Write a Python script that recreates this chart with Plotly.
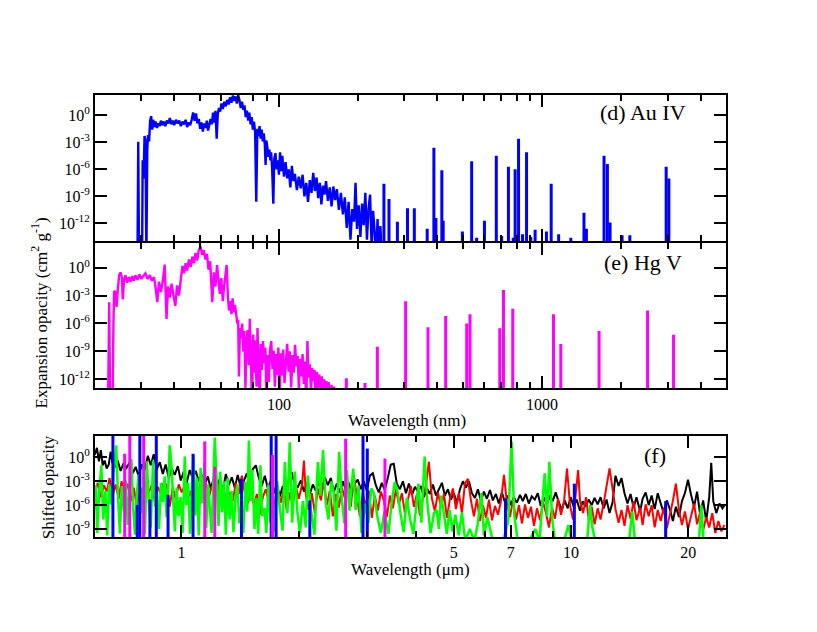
import math
import plotly.graph_objects as go

FONT = "Liberation Serif, Times New Roman, Times, serif"

# ---------------- Panel (d) Au IV : wavelength (nm) / log10 opacity ----------------
au_wl = [29.0, 29.2, 29.4, 30.2, 30.35, 30.6, 30.85, 31.1, 31.35, 31.6,
         31.8, 32.1, 32.4, 32.7, 33.0, 33.3, 33.6, 34.0, 34.4, 34.8,
         35.2, 35.6, 36.0, 36.5, 37.0, 37.5, 38.0, 38.5, 39.0, 39.5,
         40.0, 40.6, 41.2, 41.8, 42.4, 43.0, 43.6, 44.2, 44.8, 45.4,
         46.0, 46.6, 47.2, 47.8, 48.4, 49.0, 49.6, 50.2, 50.8, 51.4,
         52.0, 52.6, 53.2, 53.8, 54.4, 55.0, 55.6, 56.2, 56.8, 57.4,
         58.0, 58.6, 59.2, 59.8, 60.5, 61.2, 62.0, 62.8, 63.6, 64.4,
         65.2, 66.0, 66.8, 67.6, 68.4, 69.2, 70.0, 70.8, 71.6, 72.4,
         73.2, 74.0, 74.8, 75.6, 76.4, 77.2, 78.0, 78.8, 79.6, 80.4,
         81.2, 82.0, 82.8, 83.6, 84.4, 85.2, 86.0, 86.8, 87.6, 88.4,
         89.0, 89.6, 90.4, 91.2, 92.0, 92.8, 93.4, 94.2, 95.2, 96.0,
         97.0, 98.0, 99.0, 100.0, 101.0, 102.0, 103.0, 104.5, 106.0, 107.5,
         109.0, 110.5, 112.0, 113.5, 115.0, 117.0, 119.0, 121.0, 123.0, 125.0,
         127.0, 129.0, 131.0, 133.0, 135.0, 137.0, 139.0, 141.0, 143.0, 145.0,
         147.0, 149.0, 151.0, 153.5, 156.0, 158.5, 161.0, 163.5, 166.0, 169.0,
         172.0, 175.0, 178.0, 181.0, 184.0, 187.0, 190.0, 193.0, 195.5, 198.0,
         201.0, 204.0, 207.0, 210.0, 213.0, 216.0, 219.0, 222.0, 225.0, 228.0,
         231.0, 234.0, 237.0, 240.0, 243.0, 246.0]
au_log = [-16, -2.95, -16, -16, -5.0, -7.0, -2.3, -2.8, -16, -3.9,
          -2.2, -2.9, -0.6, -0.1, -1.6, -0.5, -1.3, -0.7, -1.4, -0.9,
          -1.2, -0.6, -1.1, -0.7, -1.2, -0.6, -0.9, -0.3, -1.0, -0.6,
          -1.1, -0.5, -0.9, -0.6, -1.2, -0.7, -1.0, -0.5, -1.3, -0.8,
          -1.1, -0.5, 0.3, -0.6, 0.2, -0.9, -0.4, -1.5, -0.8, -1.8,
          -0.9, -1.4, -0.6, -1.7, -0.9, -0.4, -1.0, 0.3, -0.8, 0.5,
          -2.6, 0.2, 0.8, 0.4, 1.3, 0.7, 1.5, 1.0, 1.7, 1.2,
          2.0, 1.4, 2.2, 1.6, 2.1, 1.3, 2.2, 1.7, 0.8, 1.5,
          0.6, 1.1, -0.2, 0.5, -0.6, 0.3, -1.0, -0.2, -1.6, -0.7,
          -1.9, -9.6, -1.5, -2.3, -1.2, -2.6, -1.6, -2.9, -2.0, -3.3,
          -5.5, -2.8, -3.6, -4.6, -3.8, -5.0, -4.1, -5.8, -9.8, -4.8,
          -4.2, -6.0, -5.0, -6.6, -4.1, -6.2, -4.5, -6.8, -5.2, -7.0,
          -6.0, -8.0, -5.6, -7.3, -6.5, -8.3, -6.8, -8.1, -6.6, -9.0,
          -7.5, -9.6, -7.2, -8.6, -6.4, -8.4, -6.9, -9.2, -7.5, -9.9,
          -7.8, -8.8, -7.3, -9.5, -8.0, -10.1, -7.9, -9.4, -8.2, -10.5,
          -8.6, -11.0, -9.1, -12.5, -9.6, -13.8, -10.4, -11.8, -7.5, -12.6,
          -10.0, -13.5, -9.8, -12.2, -8.6, -13.8, -10.4, -8.8, -14.5, -10.6,
          -12.9, -16, -11.5, -16, -12.3, -16]
au_line_wl = [250.6, 262, 282, 308, 327, 366, 388, 395, 416, 421,
              498, 540, 564, 604, 670, 702, 745, 777, 790, 814,
              843, 873, 906, 941, 1039, 1083, 1156, 1286, 1443, 1474,
              1720, 1771, 1813, 2014, 2155, 2962, 3033]
au_line_log = [-7.6, -9.3, -11.8, -10.3, -10.3, -12.6, -3.6, -11.4, -6.1, -11.7,
               -12.9, -5.1, -13.6, -11.7, -4.5, -13.4, -5.7, -13.6, -6.0, -2.6,
               -13.2, -4.1, -13.5, -12.7, -12.9, -7.6, -13.2, -13.6, -10.8, -12.6,
               -4.5, -5.4, -11.9, -13.3, -13.3, -5.7, -7.0]

# ---------------- Panel (e) Hg V ----------------
hg_wl = [22.4, 22.65, 22.85, 23.3, 23.5, 23.65, 23.9, 24.15, 24.4, 24.7,
         25.0, 25.3, 25.5, 25.8, 26.1, 26.5, 26.9, 27.3, 27.7, 28.1,
         28.5, 29.0, 29.5, 30.0, 30.5, 31.1, 31.7, 32.3, 32.9, 33.5,
         33.9, 34.5, 35.0, 35.6, 36.2, 36.8, 37.4, 37.9, 38.5, 39.1,
         39.7, 40.4, 41.0, 41.7, 42.4, 43.0, 43.6, 44.2, 44.8, 45.5,
         46.2, 46.9, 47.6, 48.2, 48.9, 49.6, 50.4, 51.1, 51.8, 52.6,
         53.3, 54.0, 54.8, 55.8, 56.6, 57.4, 58.2, 59.0, 59.6, 60.4,
         61.2, 62.0, 62.7, 63.3, 64.0, 64.6, 65.3, 66.0, 66.7, 67.4,
         68.1, 68.8, 69.5, 70.0, 70.5, 71.1, 71.8, 72.5, 73.2, 73.9,
         74.6, 75.3, 76.0, 76.8, 77.5, 78.2, 79.0, 79.8, 80.6, 81.4,
         82.2, 82.9, 83.7, 84.5, 85.3, 86.1, 87.0, 87.9, 88.8, 89.7,
         90.6, 91.5, 92.5, 93.5, 94.5, 95.5, 96.5, 97.5, 98.5, 99.5,
         100.5, 101.6, 102.7, 103.8, 105.0, 106.2, 107.5, 108.8, 110.0, 111.3,
         112.6, 113.9, 115.2, 116.5, 117.8, 119.1, 120.4, 121.7, 123.0, 124.3,
         125.6, 127.0, 128.3, 129.6, 131.0, 132.4, 133.8, 135.2, 136.6, 138.0,
         139.5, 141.0, 142.5, 144.0, 145.5, 147.0, 148.5, 150.0, 151.5, 153.0,
         154.5, 156.5, 158.5, 160.5, 162.0, 164.0]
hg_log = [-16, -3.7, -16, -16, -6.0, -2.5, -2.6, -4.2, -2.5, -0.8,
          -0.5, -1.0, -3.4, -1.3, -0.8, -1.6, -1.0, -1.5, -0.9, -1.4,
          -0.8, -1.3, -0.7, -1.2, -0.9, -0.6, -1.2, -0.8, -1.4, -1.0,
          -1.9, -3.7, -1.5, -2.6, -1.4, 0.35, -5.5, -2.0, -3.2, -1.7,
          -2.9, -4.1, -1.9, -3.0, -1.2, 0.2, -0.6, 0.5, -0.3, 0.9,
          0.1, 1.2, 0.5, 1.6, 0.8, 1.9, 2.3, 1.4, 1.9, 0.9,
          1.5, -0.2, 0.7, -3.7, -0.5, -2.0, 0.3, -1.5, -2.8, -1.1,
          -3.6, -1.8, -0.3, 0.3, -3.2, -4.6, -3.6, -5.0, -3.3, -4.8,
          -4.0, -5.3, -6.0, -5.6, -11.7, -6.5, -7.6, -6.0, -9.0, -6.8,
          -13.0, -8.0, -6.7, -10.5, -5.5, -9.8, -15, -7.2, -11.3, -7.8,
          -12.8, -6.5, -9.6, -15, -8.2, -11.0, -7.9, -10.3, -8.6, -15,
          -9.4, -12.3, -8.8, -7.9, -10.9, -8.9, -12.8, -9.3, -11.5, -8.6,
          -15, -9.2, -11.6, -8.8, -12.4, -9.6, -8.2, -11.2, -9.0, -12.9,
          -9.4, -11.3, -8.3, -10.6, -9.5, -13.1, -9.8, -11.7, -9.3, -12.5,
          -10.1, -15, -7.9, -11.8, -10.4, -13.3, -10.8, -12.2, -11.0, -15,
          -11.2, -13.0, -11.5, -15, -11.7, -13.4, -12.0, -15, -12.2, -13.6,
          -12.3, -15, -12.6, -15, -12.8, -15]
hg_line_wl = [180.4, 212.3, 236.6, 303, 368.6, 430.3, 517.2, 532.3, 690.7, 713.3,
              773.8, 1105, 1178, 1647, 2517, 3160]
hg_line_log = [-11.9, -12.4, -8.5, -3.6, -6.4, -5.2, -6.0, -5.0, -6.5, -2.4,
               -4.4, -5.0, -8.2, -6.8, -4.6, -7.2]

# ---------------- Panel (f) shifted opacity : wavelength (um) / log10 ----------------
blk_um = [0.599, 0.607, 0.614, 0.621, 0.628, 0.635, 0.643, 0.651, 0.658, 0.666,
          0.674, 0.686, 0.698, 0.711, 0.723, 0.737, 0.750, 0.763, 0.777, 0.791,
          0.805, 0.820, 0.834, 0.849, 0.864, 0.880, 0.896, 0.911, 0.928, 0.944,
          0.961, 0.979, 0.996, 1.014, 1.032, 1.050, 1.069, 1.088, 1.108, 1.128,
          1.148, 1.169, 1.190, 1.211, 1.233, 1.254, 1.277, 1.300, 1.323, 1.347,
          1.371, 1.395, 1.421, 1.446, 1.472, 1.497, 1.524, 1.552, 1.580, 1.608,
          1.637, 1.667, 1.697, 1.727, 1.758, 1.789, 1.821, 1.854, 1.887, 1.921,
          1.955, 1.991, 2.026, 2.063, 2.099, 2.136, 2.175, 2.214, 2.253, 2.293,
          2.334, 2.376, 2.418, 2.462, 2.506, 2.551, 2.596, 2.642, 2.690, 2.737,
          2.786, 2.836, 2.887, 2.938, 2.991, 3.046, 3.100, 3.155, 3.211, 3.268,
          3.327, 3.386, 3.447, 3.508, 3.571, 3.638, 3.703, 3.770, 3.837, 3.906,
          3.976, 4.047, 4.120, 4.193, 4.268, 4.344, 4.422, 4.501, 4.581, 4.663,
          4.746, 4.831, 4.917, 5.005, 5.094, 5.188, 5.280, 5.375, 5.471, 5.568,
          5.668, 5.769, 5.872, 5.976, 6.083, 6.195, 6.302, 6.415, 6.529, 6.646,
          6.764, 6.885, 7.008, 7.133, 7.260, 7.398, 7.522, 7.656, 7.793, 7.931,
          8.073, 8.217, 8.364, 8.513, 8.665, 8.835, 8.976, 9.136, 9.299, 9.465,
          9.634, 9.806, 9.981, 10.16, 10.34, 10.55, 10.71, 10.91, 11.10, 11.30,
          11.50, 11.71, 11.91, 12.13, 12.34, 12.56, 12.79, 13.01, 13.25, 13.48,
          13.72, 13.97, 14.22, 14.48, 14.73, 15.05, 15.27, 15.55, 15.83, 16.11,
          16.40, 16.70, 17.00, 17.30, 17.62, 17.97, 18.26, 18.59, 18.93, 19.27,
          19.61, 19.97, 20.33, 20.70, 21.07, 21.46, 21.84, 22.24, 22.64, 22.91,
          23.19, 23.61, 24.05, 24.48, 24.88]
blk_log = [0.3, 1.2, -0.5, 0.9, -1.0, -0.4, -1.4, -0.9, 0.7, -0.8,
           -1.3, -0.4, -1.7, -0.7, -1.3, -0.6, -2.0, -1.2, -2.4, -0.9,
           -1.6, 0.2, -1.0, 0.4, -1.5, -0.6, -2.1, -0.9, -2.6, -1.4,
           -2.2, -1.1, -2.9, -1.8, -3.2, -1.6, -2.6, -1.7, -3.0, -2.2,
           -3.4, -2.4, -4.0, -2.5, -3.6, -2.7, -4.2, -2.1, -3.5, -2.5,
           -3.8, -2.2, -3.9, -3.0, -2.0, -3.4, -1.5, -1.0, -2.6, -3.6,
           -2.3, -3.9, -2.9, -4.5, -3.4, -4.9, -3.6, -4.4, -2.8, -1.9,
           -3.5, -3.7, -2.9, -4.3, -3.2, -4.6, -3.4, -4.2, -3.1, -4.0,
           -2.5, -3.5, -2.6, -4.3, -3.3, -4.4, -3.0, -4.1, -3.2, -4.5,
           -3.3, -2.8, -4.0, -3.0, -4.2, -2.3, -2.0, -3.5, -4.4, -3.2,
           -4.1, -2.6, -0.9, -0.8, -3.3, -4.0, -3.0, -4.5, -3.3, -4.7,
           -3.7, -4.3, -3.6, -5.0, -3.9, -4.6, -3.4, -4.8, -4.1, -3.2,
           -4.8, -4.0, -5.3, -4.5, -5.7, -4.0, -3.0, -3.8, -3.0, -4.5,
           -5.1, -4.0, -5.5, -4.3, -5.2, -4.1, -5.4, -4.6, -5.8, -4.4,
           -5.6, -4.8, -6.0, -5.0, -5.7, -4.7, -5.5, -4.6, -5.8, -4.9,
           -5.3, -4.5, -6.1, -5.0, -5.9, -4.8, -5.5, -4.4, -5.6, -6.6,
           -5.4, -6.4, -5.0, -6.2, -5.3, -6.7, -5.5, -6.2, -5.3, -6.0,
           -5.1, -5.9, -5.0, -6.4, -5.3, -7.0, -5.6, -2.3, -3.6, -2.6,
           -4.5, -5.8, -4.6, -6.3, -5.0, -6.8, -5.2, -4.4, -6.0, -4.8,
           -6.5, -4.5, -5.8, -7.0, -5.4, -6.6, -8.0, -6.2, -7.5, -5.5,
           -4.5, -2.8, -4.7, -6.2, -4.3, -7.2, -5.4, -8.0, -5.0, -0.7,
           -5.5, -7.0, -5.8, -6.4, -5.9]

red_um = [0.599, 0.610, 0.621, 0.632, 0.643, 0.654, 0.666, 0.678, 0.690, 0.702,
          0.715, 0.728, 0.741, 0.755, 0.768, 0.782, 0.796, 0.810, 0.825, 0.840,
          0.854, 0.870, 0.885, 0.901, 0.917, 0.933, 0.950, 0.967, 0.984, 1.002,
          1.020, 1.038, 1.056, 1.075, 1.095, 1.114, 1.134, 1.155, 1.176, 1.197,
          1.218, 1.240, 1.262, 1.285, 1.308, 1.331, 1.355, 1.379, 1.404, 1.429,
          1.455, 1.481, 1.507, 1.534, 1.562, 1.589, 1.618, 1.647, 1.676, 1.706,
          1.737, 1.768, 1.800, 1.832, 1.865, 1.897, 1.931, 1.966, 2.001, 2.039,
          2.063, 2.087, 2.123, 2.162, 2.201, 2.240, 2.280, 2.320, 2.362, 2.404,
          2.448, 2.491, 2.536, 2.581, 2.627, 2.674, 2.722, 2.771, 2.820, 2.871,
          2.922, 2.974, 3.028, 3.082, 3.137, 3.193, 3.250, 3.309, 3.368, 3.429,
          3.490, 3.553, 3.616, 3.681, 3.747, 3.814, 3.882, 3.952, 4.023, 4.095,
          4.168, 4.243, 4.318, 4.396, 4.475, 4.555, 4.636, 4.719, 4.804, 4.890,
          4.977, 5.066, 5.157, 5.249, 5.343, 5.439, 5.536, 5.635, 5.736, 5.840,
          5.944, 6.050, 6.159, 6.269, 6.381, 6.495, 6.611, 6.730, 6.851, 6.973,
          7.098, 7.225, 7.354, 7.486, 7.620, 7.756, 7.895, 8.036, 8.180, 8.327,
          8.476, 8.627, 8.782, 8.939, 9.099, 9.262, 9.427, 9.596, 9.768, 9.944,
          10.12, 10.30, 10.43, 10.55, 10.74, 10.93, 11.12, 11.30, 11.50, 11.71,
          11.91, 12.13, 12.34, 12.56, 12.79, 13.01, 13.25, 13.48, 13.72, 13.97,
          14.22, 14.48, 14.73, 15.05, 15.27, 15.55, 15.83, 16.11, 16.40, 16.70,
          17.00, 17.30, 17.62, 17.97, 18.26, 18.59, 18.93, 19.27, 19.61, 19.97,
          20.33, 20.70, 21.07, 21.46, 21.84, 22.24, 22.64, 23.05, 23.47, 23.90,
          24.33, 24.77]
red_log = [-4.5, -3.2, -5.0, -3.5, -4.3, -2.6, -4.8, -3.4, -5.2, -3.0,
           -4.6, -3.3, -5.5, -3.8, -6.2, -3.6, -4.9, -3.2, -4.4, -3.4,
           -5.6, -3.7, -4.6, -3.1, -3.5, -6.2, -3.8, -5.3, -3.4, -4.4,
           -3.5, -5.4, -4.2, -6.5, -4.6, -5.9, -4.0, -3.2, -5.0, -3.6,
           -4.8, -3.4, -5.2, -4.0, -6.0, -4.4, -5.5, -3.2, -4.6, -2.3,
           -4.5, -5.8, -4.2, -6.0, -4.6, -7.2, -5.0, -4.0, -5.6, -3.6,
           -6.4, -4.3, -5.7, -3.9, -6.8, -4.4, -6.0, -3.6, -5.2, -3.5,
           -0.4, -4.8, -6.6, -4.5, -7.0, -3.9, -5.4, -3.0, -6.0, -4.2,
           -7.4, -4.6, -6.3, -3.8, -5.1, -3.5, -6.2, -2.2, -5.0, -7.4,
           -4.5, -6.1, -4.2, -7.6, -4.8, -6.7, -4.3, -5.4, -7.5, -4.8,
           -6.4, -4.0, -5.9, -4.5, -7.0, -5.2, -3.6, -6.2, -4.6, -7.3,
           -5.0, -3.5, -0.55, -5.2, -6.8, -4.4, -6.3, -4.6, -7.6, -5.2,
           -3.9, -6.5, -4.5, -7.0, -3.3, -2.7, -5.4, -7.4, -5.2, -8.0,
           -6.0, -7.6, -5.3, -7.9, -6.1, -7.2, -5.5, -2.2, -5.8, -7.5,
           -5.3, -7.8, -6.0, -8.3, -5.9, -7.6, -6.2, -8.6, -6.4, -7.9,
           -5.6, -7.0, -8.8, -6.3, -7.7, -5.2, -7.2, -5.6, -1.4, -6.0,
           -7.8, -4.3, -1.6, -5.5, -7.0, -5.0, -8.0, -6.2, -8.4, -6.4,
           -7.8, -5.8, -3.4, -1.4, -4.0, -6.5, -8.2, -6.6, -8.6, -6.0,
           -7.7, -5.5, -7.9, -6.3, -8.5, -5.9, -7.4, -6.0, -8.8, -6.6,
           -8.0, -6.3, -8.9, -7.0, -5.5, -3.3, -6.6, -8.5, -6.8, -9.0,
           -7.3, -5.8, -8.4, -6.9, -9.2, -7.5, -8.8, -7.0, -9.5, -8.0,
           -9.3, -8.5]

grn_um = [0.599, 0.603, 0.608, 0.614, 0.623, 0.630, 0.638, 0.645, 0.652, 0.660,
          0.668, 0.680, 0.688, 0.695, 0.703, 0.712, 0.720, 0.728, 0.736, 0.744,
          0.752, 0.760, 0.768, 0.777, 0.786, 0.796, 0.806, 0.815, 0.824, 0.834,
          0.846, 0.856, 0.866, 0.876, 0.886, 0.896, 0.906, 0.916, 0.925, 0.933,
          0.942, 0.952, 0.962, 0.972, 0.983, 0.995, 1.007, 1.020, 1.030, 1.040,
          1.052, 1.062, 1.074, 1.086, 1.097, 1.108, 1.120, 1.132, 1.145, 1.158,
          1.170, 1.182, 1.195, 1.218, 1.232, 1.245, 1.258, 1.272, 1.286, 1.300,
          1.315, 1.330, 1.345, 1.360, 1.376, 1.392, 1.408, 1.425, 1.442, 1.460,
          1.476, 1.490, 1.505, 1.520, 1.540, 1.558, 1.575, 1.595, 1.612, 1.632,
          1.652, 1.672, 1.692, 1.712, 1.735, 1.760, 1.790, 1.818, 1.843, 1.870,
          1.897, 1.925, 1.955, 1.985, 2.015, 2.050, 2.085, 2.110, 2.150, 2.195,
          2.240, 2.275, 2.310, 2.345, 2.385, 2.425, 2.460, 2.500, 2.540, 2.580,
          2.620, 2.660, 2.700, 2.760, 2.800, 2.850, 2.900, 2.960, 3.020, 3.070,
          3.120, 3.180, 3.250, 3.320, 3.400, 3.470, 3.530, 3.590, 3.650, 3.720,
          3.790, 3.860, 3.940, 4.060, 4.130, 4.210, 4.280, 4.360, 4.450, 4.520,
          4.580, 4.640, 4.720, 4.800, 4.880, 4.960, 5.050, 5.150, 5.250, 5.350,
          5.500, 5.650, 5.760, 5.890, 5.980, 6.100, 6.300, 6.700, 6.900, 7.040,
          7.150, 7.300, 7.800, 8.100, 8.300, 8.560, 8.680, 8.800, 8.950, 9.100,
          9.600, 9.850, 10.05, 11.00, 11.19, 11.35, 11.55, 14.10, 14.36, 14.60,
          21.30, 21.60, 21.90, 25.0]
grn_log = [-6.5, -3.5, -9.5, -4.8, -1.0, -7.8, -4.2, -9.8, -3.4, -5.9,
           -2.4, 1.5, -5.2, -9.6, -3.6, -6.8, -2.9, -8.5, -4.0, -0.2,
           -6.5, -9.7, -4.6, -2.1, -7.0, -3.8, -9.6, -0.5, -5.2, -8.8,
           -0.4, -6.2, -4.5, -9.0, -3.2, -5.6, -2.4, -7.5, -4.0, 1.5,
           -0.7, -6.1, -9.3, -3.8, -7.4, -5.0, -9.5, 0.1, -6.0, -3.2,
           -9.6, -4.6, 0.3, -7.3, -2.6, -9.8, -1.3, -5.8, -0.7, -8.9,
           -3.4, -6.2, -9.5, 2.5, -4.4, -8.6, -1.8, -6.9, -3.0, -9.7,
           -2.6, -7.8, -4.2, -9.4, -5.2, -3.4, -8.3, -6.0, -9.5, -3.1,
           -6.8, 2.1, -5.5, -1.6, -9.0, -5.1, -9.6, -1.0, -7.4, -6.3,
           -9.5, -3.4, -8.2, -4.0, -9.3, -3.0, -6.5, -9.2, -0.6, -7.0,
           1.9, -8.2, -1.8, -6.9, -9.5, -5.5, -8.8, -2.3, -6.6, -9.7,
           -0.6, -4.8, 0.9, -5.6, -7.8, -3.0, -4.4, -9.2, 0.7, -5.2,
           -8.3, -1.6, -6.7, -1.4, -6.6, -3.6, -9.5, -5.8, -8.2, -3.9,
           -4.5, -7.3, -9.5, -6.8, -9.6, -5.4, -3.1, -4.4, -7.0, -9.4,
           -5.1, -7.7, -9.6, -3.3, -8.2, 0.1, -5.8, -9.5, -7.0, -6.6,
           -9.0, -4.8, -7.1, -9.6, -6.6, -9.3, -7.2, -9.8, -6.9, -10.5,
           -9.0, -10.5, -8.4, -4.5, -9.8, -7.5, -10.5, -10.5, -8.0, 2.0,
           -7.2, -10.5, -10.5, -9.0, -10.5, -2.0, -7.4, -0.55, -7.8, -10.5,
           -10.5, -8.5, -10.5, -10.5, -6.0, -8.8, -10.5, -10.5, -6.8, -10.5,
           -10.5, -6.0, -10.5, -10.5]

# isolated features (drawn as vertical lines)
blu_um = [0.667, 0.770, 0.782, 0.830, 0.862, 0.924, 1.071, 1.426, 1.700, 1.750,
          2.136, 2.925, 3.000, 6.79, 10.2, 17.5]
blu_log = [3.0, -6.0, 3.0, -5.3, 3.0, -4.7, 0.45, -2.7, 3.0, 3.0,
           -5.4, 3.0, 1.1, -5.2, -3.3, -5.5]
mag_um = [0.715, 0.737, 0.800, 1.148, 1.218, 1.713, 2.64, 3.33]
mag_log = [0.45, 3.0, 3.0, 2.0, -1.2, 0.3, 2.34, -0.15]

FLOOR = 1e-22


def series(xs, logs):
    return list(xs), [10 ** v for x, v in zip(xs, logs, strict=True)]


def spikes(xs, logs):
    X, Y = [], []
    for x, v in zip(xs, logs, strict=True):
        X += [x, x, None]
        Y += [FLOOR, 10 ** v, None]
    return X, Y


fig = go.Figure()


def add(xy, color, width, xa, ya):
    fig.add_trace(go.Scatter(x=xy[0], y=xy[1], mode="lines",
                             line=dict(color=color, width=width),
                             xaxis=xa, yaxis=ya, hoverinfo="skip",
                             showlegend=False, connectgaps=False))


BLUE, MAG, GRN, RED = "#0000ff", "#ff00ff", "#00ff00", "#ff0000"
add(series(au_wl, au_log), BLUE, 2.4, "x", "y")
add(spikes(au_line_wl, au_line_log), BLUE, 3, "x", "y")
add(series(hg_wl, hg_log), MAG, 2.4, "x2", "y2")
add(spikes(hg_line_wl, hg_line_log), MAG, 3, "x2", "y2")
add(series(blk_um, blk_log), "black", 2, "x3", "y3")
add(series(red_um, red_log), RED, 2, "x3", "y3")
add(series(grn_um, grn_log), GRN, 2.5, "x3", "y3")
add(spikes(blu_um, blu_log), BLUE, 3, "x3", "y3")
add(spikes(mag_um, mag_log), MAG, 3, "x3", "y3")

TICKFONT = dict(family=FONT, size=16, color="black")
COMMON = dict(showline=True, linewidth=2, linecolor="black", mirror="ticks",
              ticks="inside", ticklen=12, tickwidth=2, tickcolor="black",
              showgrid=False, zeroline=False, tickfont=TICKFONT)

nm_minor = [20, 30, 40, 50, 60, 70, 80, 90, 200, 300, 400, 500, 600, 700, 800, 900,
            2000, 3000, 4000, 5000]
um_major = [1, 5, 7, 10, 20]
um_minor = [2, 3, 4, 6, 8, 9]
MINOR = dict(ticks="inside", ticklen=6, tickwidth=2, tickcolor="black", showgrid=False)

y_vals = [1, 1e-3, 1e-6, 1e-9, 1e-12]
y_text = ["10<sup>0</sup>", "10<sup>-3</sup>", "10<sup>-6</sup>", "10<sup>-9</sup>", "10<sup>-12</sup>"]

fig.update_layout(
    width=817, height=632,
    margin=dict(l=95, r=91, t=95, b=95),
    paper_bgcolor="white", plot_bgcolor="white",
    font=dict(family=FONT, color="black"),
    showlegend=False,
    xaxis=dict(COMMON, type="log", range=[math.log10(20), math.log10(5000)], anchor="y",
               tickmode="array", tickvals=[100, 1000], showticklabels=False,
               minor=dict(MINOR, tickmode="array", tickvals=nm_minor)),
    yaxis=dict(COMMON, type="log", domain=[0.6686, 1.0], range=[-14, 2.25], anchor="x",
               tickmode="array", tickvals=y_vals, ticktext=y_text),
    xaxis2=dict(COMMON, type="log", range=[math.log10(20), math.log10(5000)], anchor="y2",
                tickmode="array", tickvals=[100, 1000], ticktext=["100", "1000"],
                minor=dict(MINOR, tickmode="array", tickvals=nm_minor)),
    yaxis2=dict(COMMON, type="log", domain=[0.336, 0.6641], range=[-13, 2.62], anchor="x2",
                tickmode="array", tickvals=y_vals, ticktext=y_text),
    xaxis3=dict(COMMON, type="log", range=[math.log10(0.6), math.log10(25)], anchor="y3",
                tickmode="array", tickvals=um_major, ticktext=[str(v) for v in um_major],
                minor=dict(MINOR, tickmode="array", tickvals=um_minor)),
    yaxis3=dict(COMMON, type="log", domain=[0.0, 0.2285], range=[-10, 2.68], anchor="x3",
                tickmode="array", tickvals=y_vals[:4], ticktext=y_text[:4]),
)

ann = [
    dict(text="(d) Au IV", x=0.9398, y=0.9604, xanchor="right", yanchor="middle", size=22),
    dict(text="(e) Hg V", x=0.9327, y=0.6204, xanchor="right", yanchor="middle", size=22),
    dict(text="(f)", x=0.908, y=0.1844, xanchor="right", yanchor="middle", size=22),
    dict(text="Wavelength (nm)", x=0.495, y=0.2645, xanchor="center", yanchor="middle", size=17),
    dict(text="Wavelength (μm)", x=0.4997, y=-0.0738, xanchor="center", yanchor="middle", size=17),
]
for a in ann:
    fig.add_annotation(text=a["text"], x=a["x"], y=a["y"], xref="paper", yref="paper",
                       xanchor=a["xanchor"], yanchor=a["yanchor"], showarrow=False,
                       font=dict(family=FONT, size=a["size"], color="black"))

fig.add_annotation(text="Expansion opacity (cm<sup>2</sup> g<sup>-1</sup>)", x=-0.0872, y=0.508,
                   xref="paper", yref="paper", xanchor="center", yanchor="middle",
                   textangle=-90, showarrow=False, font=dict(family=FONT, size=17, color="black"))
fig.add_annotation(text="Shifted opacity", x=-0.0745, y=0.1127,
                   xref="paper", yref="paper", xanchor="center", yanchor="middle",
                   textangle=-90, showarrow=False, font=dict(family=FONT, size=17, color="black"))

fig.write_html("out.html", config={"displayModeBar": False},
               post_script="document.body.style.margin='0';")
